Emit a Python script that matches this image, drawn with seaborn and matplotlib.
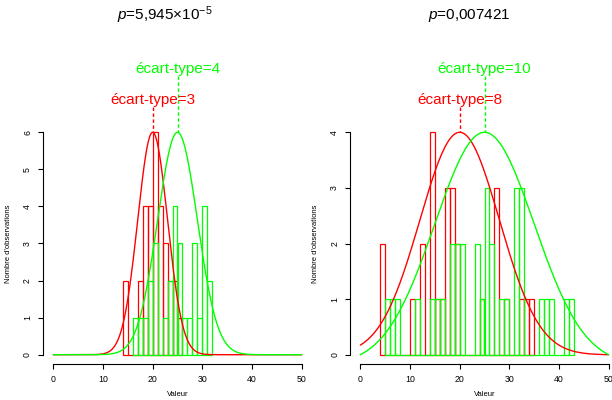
import numpy as np
import pandas as pd
import matplotlib
matplotlib.use("Agg")
import matplotlib.pyplot as plt
import seaborn as sns
from matplotlib.transforms import blended_transform_factory

sns.set_style("ticks")
plt.rcParams['font.family'] = ['Liberation Sans', 'DejaVu Sans']
plt.rcParams['mathtext.fontset'] = 'custom'
plt.rcParams['mathtext.rm'] = 'Liberation Sans'
plt.rcParams['mathtext.it'] = 'Liberation Sans:italic'
for k in ['text.color', 'axes.labelcolor', 'xtick.color', 'ytick.color', 'axes.edgecolor']:
    plt.rcParams[k] = 'black'

RED = "#FF0000"
GREEN = "#00FF00"

# ---------------- data ----------------
# left panel (sd 3 vs sd 4)
left_red_bins = [14, 17, 18, 19, 20, 21, 22, 23, 24, 25]
left_red_counts = [2, 2, 4, 4, 6, 4, 3, 2, 2, 1]
left_green_bins = [16, 17, 18, 19, 20, 22, 23, 24, 25, 26, 27, 28, 29, 30, 31]
left_green_counts = [1, 1, 1, 2, 3, 1, 2, 4, 3, 1, 1, 3, 1, 4, 2]
# right panel (sd 8 vs sd 10)
right_red_bins = [4, 10, 12, 14, 15, 16, 17, 18, 19, 24, 27, 29, 32, 33, 34]
right_red_counts = [2, 1, 2, 4, 1, 1, 3, 3, 2, 1, 3, 1, 1, 1, 1]
right_green_bins = [5, 6, 7, 11, 14, 15, 16, 18, 19, 20, 23, 24, 25, 26, 28, 29,
                    31, 32, 36, 37, 38, 41, 42]
right_green_counts = [1, 1, 1, 1, 1, 1, 1, 2, 2, 2, 2, 1, 3, 2, 1, 1,
                      3, 3, 1, 1, 1, 1, 1]

means = [20, 25]
left_sds = [3, 4]
right_sds = [8, 10]
left_ymax = 6
right_ymax = 4
titles = [r"$p$=5,945×10$^{-5}$", r"$p$=0,007421"]
xlabel = "Valeur"
ylabel = "Nombre d'observations"

# ---------------- figure ----------------
W, H = 612, 400
fig = plt.figure(figsize=(W / 100, H / 100), dpi=100)

def px_axes(x0, x1, ytop, ybot):
    return fig.add_axes([x0 / W, 1 - ybot / H, (x1 - x0) / W, (ybot - ytop) / H])

ax1 = px_axes(43.3, 311.7, 123.4, 363.6)
ax2 = px_axes(350.4, 618.6, 123.4, 363.6)


def hist(ax, bins, counts, color):
    bins = np.asarray(bins)
    df = pd.DataFrame({"x": bins + 0.5, "w": counts})
    sns.histplot(data=df, x="x", weights="w", binwidth=1,
                 binrange=(int(bins.min()), int(bins.max()) + 1), fill=False,
                 element="bars", color=color, linewidth=0.9, ax=ax, alpha=1)


def curve(ax, mu, sd, ymax, color):
    # normal curve over the plotted range, rescaled to span 0..ymax
    xs = np.linspace(0, 50, 401)
    g = np.exp(-(xs - mu) ** 2 / (2 * sd ** 2))
    ys = ymax * (g - g.min()) / (g.max() - g.min())
    sns.lineplot(x=xs, y=ys, color=color, linewidth=1.0, ax=ax)


panels = [
    (ax1, left_red_bins, left_red_counts, left_green_bins, left_green_counts, left_sds, left_ymax),
    (ax2, right_red_bins, right_red_counts, right_green_bins, right_green_counts, right_sds, right_ymax),
]

for ax, rb, rc, gb, gc, sds, ymax in panels:
    hist(ax, rb, rc, RED)
    hist(ax, gb, gc, GREEN)
    curve(ax, means[0], sds[0], ymax, RED)
    curve(ax, means[1], sds[1], ymax, GREEN)

    ax.set_xlim(-2, 52)
    pad = ymax * 0.04
    ax.set_ylim(-pad, ymax + pad)
    ax.set_xticks(range(0, 51, 10))
    ax.set_yticks(range(0, ymax + 1))
    for s in ["top", "right"]:
        ax.spines[s].set_visible(False)
    ax.spines["left"].set_bounds(0, ymax)
    ax.spines["bottom"].set_bounds(0, 50)
    for s in ["left", "bottom"]:
        ax.spines[s].set_linewidth(0.8)
        ax.spines[s].set_color("black")
    ax.tick_params(length=3.6, width=0.8, labelsize=6.3, pad=4.5, color="black",
                   labelcolor="black")
    for lab in ax.get_yticklabels():
        lab.set_rotation(90)
        lab.set_va("center")
    ax.set_xlabel(xlabel, fontsize=5.5, color="black")
    ax.set_ylabel(ylabel, fontsize=5.5, color="black")
    ax.xaxis.set_label_coords(0.5, -0.112)
    ax.yaxis.set_label_coords(-0.118, 0.5)
    ax.grid(False)

    tr = blended_transform_factory(ax.transData, ax.transAxes)
    # dashed markers and labels
    for mu, sd, color, ytext in [(means[1], sds[1], GREEN, 1.2015), (means[0], sds[0], RED, 1.0724)]:
        ax.plot([mu, mu], [ytext - 0.005, 0.963], transform=tr, color=color,
                linestyle=(0, (2.5, 1.8)), linewidth=1.0, clip_on=False)
        ax.text(mu, ytext + 0.01, f"écart-type={sd}", transform=tr, color=color,
                ha="center", va="baseline", fontsize=11)

fig.text(165 / W, 1 - 19.5 / H, titles[0], ha="center", va="baseline", fontsize=11,
         color="black")
fig.text(469 / W, 1 - 19.5 / H, titles[1], ha="center", va="baseline", fontsize=11,
         color="black")

fig.savefig("out.png", dpi=100)
